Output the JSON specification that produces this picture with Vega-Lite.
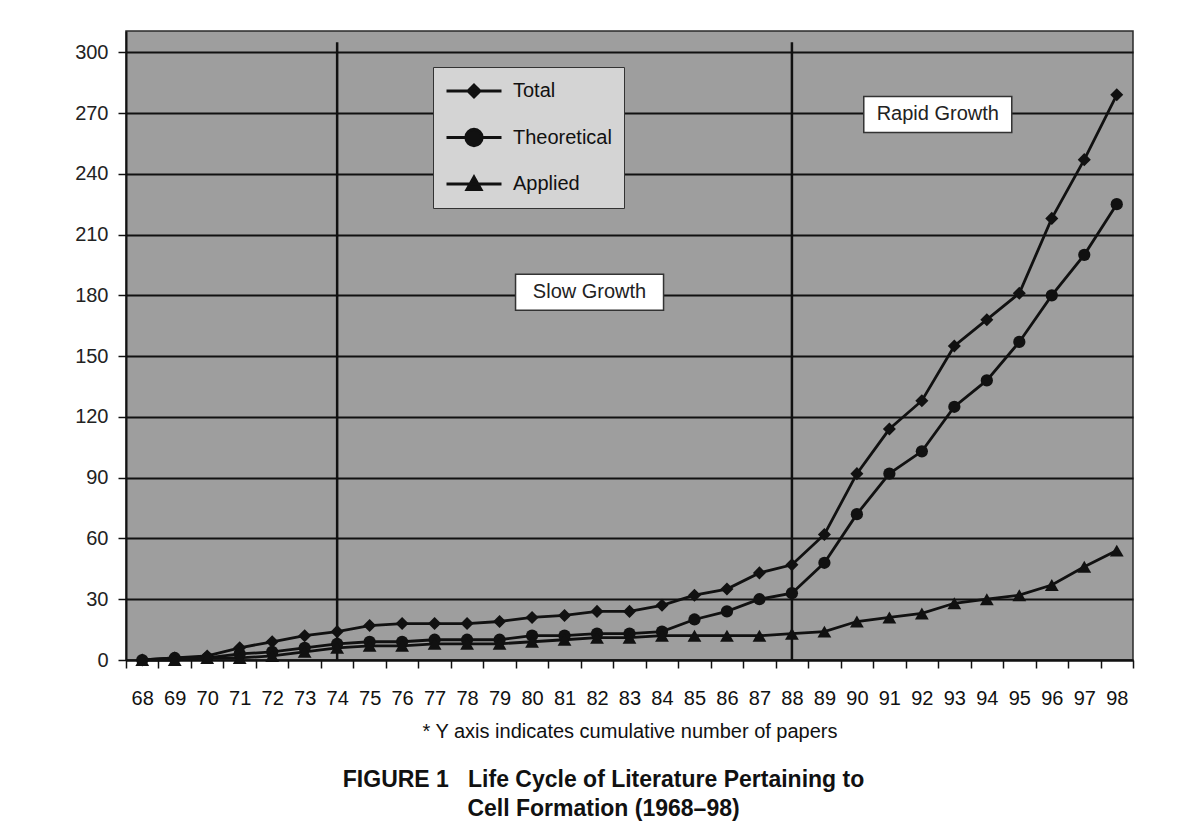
{
  "$schema": "https://vega.github.io/schema/vega-lite/v6.json",
  "width": 1007,
  "height": 629,
  "autosize": {"type": "none"},
  "padding": {"left": 126, "top": 31, "right": 44, "bottom": 178},
  "background": "white",
  "config": {
    "font": "Liberation Sans",
    "view": {"stroke": "#2a2a2a", "strokeWidth": 1.5, "fill": "#9e9e9e"},
    "axis": {"labelFont": "Liberation Sans", "titleFont": "Liberation Sans"},
    "axisX": {"labelOverlap": false, "labelSeparation": 0, "labelBound": false}
  },
  "title": {
    "text": ["FIGURE 1\u00a0\u00a0 Life Cycle of Literature Pertaining to", "Cell Formation (1968–98)"],
    "orient": "bottom",
    "anchor": "middle",
    "font": "Liberation Sans",
    "fontSize": 23,
    "fontWeight": "bold",
    "color": "#111",
    "lineHeight": 29,
    "offset": 28,
    "dx": -26
  },
  "datasets": {
    "papers": [
      {"year": 68, "series": "Total", "papers": 0},
      {"year": 69, "series": "Total", "papers": 1},
      {"year": 70, "series": "Total", "papers": 2},
      {"year": 71, "series": "Total", "papers": 6},
      {"year": 72, "series": "Total", "papers": 9},
      {"year": 73, "series": "Total", "papers": 12},
      {"year": 74, "series": "Total", "papers": 14},
      {"year": 75, "series": "Total", "papers": 17},
      {"year": 76, "series": "Total", "papers": 18},
      {"year": 77, "series": "Total", "papers": 18},
      {"year": 78, "series": "Total", "papers": 18},
      {"year": 79, "series": "Total", "papers": 19},
      {"year": 80, "series": "Total", "papers": 21},
      {"year": 81, "series": "Total", "papers": 22},
      {"year": 82, "series": "Total", "papers": 24},
      {"year": 83, "series": "Total", "papers": 24},
      {"year": 84, "series": "Total", "papers": 27},
      {"year": 85, "series": "Total", "papers": 32},
      {"year": 86, "series": "Total", "papers": 35},
      {"year": 87, "series": "Total", "papers": 43},
      {"year": 88, "series": "Total", "papers": 47},
      {"year": 89, "series": "Total", "papers": 62},
      {"year": 90, "series": "Total", "papers": 92},
      {"year": 91, "series": "Total", "papers": 114},
      {"year": 92, "series": "Total", "papers": 128},
      {"year": 93, "series": "Total", "papers": 155},
      {"year": 94, "series": "Total", "papers": 168},
      {"year": 95, "series": "Total", "papers": 181},
      {"year": 96, "series": "Total", "papers": 218},
      {"year": 97, "series": "Total", "papers": 247},
      {"year": 98, "series": "Total", "papers": 279},
      {"year": 68, "series": "Theoretical", "papers": 0},
      {"year": 69, "series": "Theoretical", "papers": 1},
      {"year": 70, "series": "Theoretical", "papers": 1},
      {"year": 71, "series": "Theoretical", "papers": 3},
      {"year": 72, "series": "Theoretical", "papers": 4},
      {"year": 73, "series": "Theoretical", "papers": 6},
      {"year": 74, "series": "Theoretical", "papers": 8},
      {"year": 75, "series": "Theoretical", "papers": 9},
      {"year": 76, "series": "Theoretical", "papers": 9},
      {"year": 77, "series": "Theoretical", "papers": 10},
      {"year": 78, "series": "Theoretical", "papers": 10},
      {"year": 79, "series": "Theoretical", "papers": 10},
      {"year": 80, "series": "Theoretical", "papers": 12},
      {"year": 81, "series": "Theoretical", "papers": 12},
      {"year": 82, "series": "Theoretical", "papers": 13},
      {"year": 83, "series": "Theoretical", "papers": 13},
      {"year": 84, "series": "Theoretical", "papers": 14},
      {"year": 85, "series": "Theoretical", "papers": 20},
      {"year": 86, "series": "Theoretical", "papers": 24},
      {"year": 87, "series": "Theoretical", "papers": 30},
      {"year": 88, "series": "Theoretical", "papers": 33},
      {"year": 89, "series": "Theoretical", "papers": 48},
      {"year": 90, "series": "Theoretical", "papers": 72},
      {"year": 91, "series": "Theoretical", "papers": 92},
      {"year": 92, "series": "Theoretical", "papers": 103},
      {"year": 93, "series": "Theoretical", "papers": 125},
      {"year": 94, "series": "Theoretical", "papers": 138},
      {"year": 95, "series": "Theoretical", "papers": 157},
      {"year": 96, "series": "Theoretical", "papers": 180},
      {"year": 97, "series": "Theoretical", "papers": 200},
      {"year": 98, "series": "Theoretical", "papers": 225},
      {"year": 68, "series": "Applied", "papers": 0},
      {"year": 69, "series": "Applied", "papers": 0},
      {"year": 70, "series": "Applied", "papers": 1},
      {"year": 71, "series": "Applied", "papers": 1},
      {"year": 72, "series": "Applied", "papers": 2},
      {"year": 73, "series": "Applied", "papers": 4},
      {"year": 74, "series": "Applied", "papers": 6},
      {"year": 75, "series": "Applied", "papers": 7},
      {"year": 76, "series": "Applied", "papers": 7},
      {"year": 77, "series": "Applied", "papers": 8},
      {"year": 78, "series": "Applied", "papers": 8},
      {"year": 79, "series": "Applied", "papers": 8},
      {"year": 80, "series": "Applied", "papers": 9},
      {"year": 81, "series": "Applied", "papers": 10},
      {"year": 82, "series": "Applied", "papers": 11},
      {"year": 83, "series": "Applied", "papers": 11},
      {"year": 84, "series": "Applied", "papers": 12},
      {"year": 85, "series": "Applied", "papers": 12},
      {"year": 86, "series": "Applied", "papers": 12},
      {"year": 87, "series": "Applied", "papers": 12},
      {"year": 88, "series": "Applied", "papers": 13},
      {"year": 89, "series": "Applied", "papers": 14},
      {"year": 90, "series": "Applied", "papers": 19},
      {"year": 91, "series": "Applied", "papers": 21},
      {"year": 92, "series": "Applied", "papers": 23},
      {"year": 93, "series": "Applied", "papers": 28},
      {"year": 94, "series": "Applied", "papers": 30},
      {"year": 95, "series": "Applied", "papers": 32},
      {"year": 96, "series": "Applied", "papers": 37},
      {"year": 97, "series": "Applied", "papers": 46},
      {"year": 98, "series": "Applied", "papers": 54}
    ],
    "phases": [{"year": 74}, {"year": 88}],
    "notes": [
      {"year": 81.77, "papers": 181.5, "label": "Slow Growth"},
      {"year": 92.49, "papers": 269.3, "label": "Rapid Growth"}
    ]
  },
  "layer": [
    {
      "data": {"name": "phases"},
      "mark": {"type": "rule", "color": "#111", "strokeWidth": 2.5},
      "encoding": {
        "x": {"field": "year", "type": "quantitative",
          "scale": {"domain": [67.5, 98.5], "nice": false, "zero": false},
          "axis": {
            "values": [67.5, 68.5, 69.5, 70.5, 71.5, 72.5, 73.5, 74.5, 75.5, 76.5, 77.5, 78.5, 79.5, 80.5, 81.5, 82.5, 83.5, 84.5, 85.5, 86.5, 87.5, 88.5, 89.5, 90.5, 91.5, 92.5, 93.5, 94.5, 95.5, 96.5, 97.5, 98.5],
            "tickCount": 40,
            "labelExpr": "datum.value > 98 ? '' : format(datum.value + 0.5, 'd')",
            "labelOffset": 16.24,
            "labelFlush": false,
            "labelOverlap": false,
            "labelFontSize": 20,
            "labelColor": "#111",
            "labelPadding": 20,
            "tickSize": 8,
            "tickColor": "#111",
            "tickWidth": 1.5,
            "domainColor": "#111",
            "domainWidth": 2,
            "grid": false,
            "title": "* Y axis indicates cumulative number of papers",
            "titleFontSize": 20,
            "titleFontWeight": "normal",
            "titleColor": "#111",
            "titlePadding": 13
          }
        },
        "y": {"datum": 0, "type": "quantitative",
          "scale": {"domain": [0, 310.5], "nice": false},
          "axis": {
            "values": [0, 30, 60, 90, 120, 150, 180, 210, 240, 270, 300],
            "tickCount": 20,
            "labelFontSize": 20,
            "labelColor": "#222",
            "labelPadding": 10,
            "tickSize": 8,
            "tickColor": "#111",
            "tickWidth": 1.5,
            "domainColor": "#111",
            "domainWidth": 2,
            "grid": true,
            "gridColor": "#111",
            "gridWidth": 1.8,
            "gridOpacity": 1,
            "title": null
          }
        },
        "y2": {"datum": 305}
      }
    },
    {
      "data": {"name": "papers"},
      "mark": {"type": "line", "color": "#111"},
      "encoding": {
        "x": {"field": "year", "type": "quantitative"},
        "y": {"field": "papers", "type": "quantitative"},
        "strokeWidth": {
          "field": "series", "type": "ordinal",
          "scale": {"domain": ["Total", "Theoretical", "Applied"], "range": [2.8, 2.8, 5]},
          "legend": {
            "title": null,
            "orient": "none",
            "legendX": 307,
            "legendY": 36,
            "padding": 12,
            "clipHeight": 24,
            "rowPadding": 22.5,
            "symbolSize": 3025,
            "symbolOffset": 0,
            "symbolType": {"expr": "datum.value === 'Total' ? 'M-1,0L1,0M0,-0.22L0.22,0L0,0.22L-0.22,0Z' : datum.value === 'Theoretical' ? 'M-1,0L1,0M-0.3,0A0.3,0.3,0,1,1,0.3,0A0.3,0.3,0,1,1,-0.3,0Z' : 'M-1,0L1,0M0,-0.26L0.26,0.2L-0.26,0.2Z'"},
            "symbolStrokeWidth": {"expr": "datum.value === 'Applied' ? 5 : 2.8"},
            "symbolFillColor": "#111",
            "symbolStrokeColor": "#111",
            "symbolOpacity": 1,
            "labelOffset": 10,
            "labelFontSize": 20,
            "labelColor": "#111",
            "fillColor": "#d4d4d4",
            "strokeColor": "#333"
          }
        }
      }
    },
    {
      "data": {"name": "papers"},
      "mark": {"type": "point", "filled": true, "color": "#111", "opacity": 1},
      "encoding": {
        "x": {"field": "year", "type": "quantitative"},
        "y": {"field": "papers", "type": "quantitative"},
        "shape": {"field": "series", "type": "nominal",
          "scale": {"domain": ["Applied", "Theoretical", "Total"], "range": ["triangle-up", "circle", "diamond"]},
          "legend": null},
        "size": {"field": "series", "type": "nominal",
          "scale": {"domain": ["Applied", "Total", "Theoretical"], "range": [190, 150, 260]},
          "legend": null}
      }
    },
    {
      "data": {"name": "notes"},
      "mark": {"type": "point", "shape": "M-1,-0.243L1,-0.243L1,0.243L-1,0.243Z", "size": 21904, "filled": true, "fill": "white", "stroke": "#333", "strokeWidth": 1.5, "opacity": 1},
      "encoding": {
        "x": {"field": "year", "type": "quantitative"},
        "y": {"field": "papers", "type": "quantitative"}
      }
    },
    {
      "data": {"name": "notes"},
      "mark": {"type": "text", "fontSize": 20, "color": "#222", "font": "Liberation Sans", "align": "center", "baseline": "middle"},
      "encoding": {
        "x": {"field": "year", "type": "quantitative"},
        "y": {"field": "papers", "type": "quantitative"},
        "text": {"field": "label"}
      }
    }
  ]
}
